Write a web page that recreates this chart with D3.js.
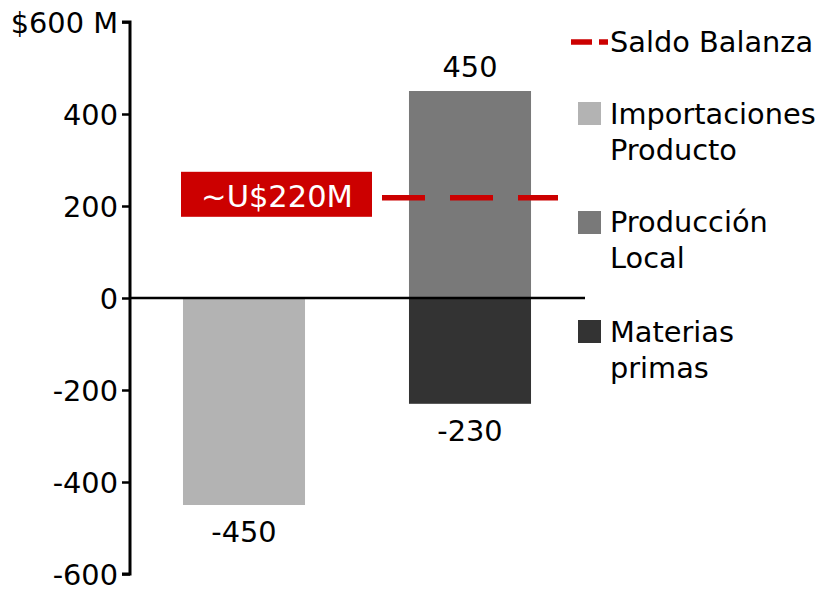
<!DOCTYPE html>
<html><head><meta charset="utf-8">
<script src="https://cdn.jsdelivr.net/npm/d3@7"></script>
<style>body{margin:0;background:#fff}svg{display:block;font-family:"DejaVu Sans",Verdana,sans-serif}</style>
</head><body><svg id="c" width="824" height="589"></svg>
<script>
const categories = ["Importado", "Nacional"];
const seriesNames = ["Importaciones Producto", "Producción Local", "Materias primas"];
const seriesColors = ["#b3b3b3", "#797979", "#333333"];
const importaciones = [-450, 0];
const produccionLocal = [0, 450];
const materiasPrimas = [0, -230];
const saldoBalanza = 220;
const saldoLabel = "~U$220M";
const yTicks = [-600, -400, -200, 0, 200, 400, 600];
const yTickLabels = ["-600", "-400", "-200", "0", "200", "400", "$600 M"];
const legendLines = [["Saldo Balanza"], ["Importaciones", "Producto"], ["Producción", "Local"], ["Materias", "primas"]];

const svg = d3.select("#c");
const FS = 28.8;
const y = d3.scaleLinear().domain([-600, 600]).range([574, 22]);
const x = d3.scaleBand().domain(categories).range([131, 583]).paddingInner(0.46).paddingOuter(0.23);

const series = [importaciones, produccionLocal, materiasPrimas];
series.forEach((vals, si) => {
  categories.forEach((c, i) => {
    const v = vals[i];
    if (!v) return;
    svg.append("rect").attr("x", x(c)).attr("width", x.bandwidth())
      .attr("y", y(Math.max(0, v))).attr("height", Math.abs(y(v) - y(0)))
      .attr("fill", seriesColors[si]);
    const lbl = svg.append("text").attr("x", x(c) + x.bandwidth() / 2)
      .attr("text-anchor", "middle").attr("font-size", FS).attr("fill", "#000").text(v);
    if (v > 0) lbl.attr("y", y(v) - 14); else lbl.attr("y", y(v) + 37);
  });
});

// zero line
svg.append("line").attr("x1", 130).attr("x2", 585).attr("y1", y(0)).attr("y2", y(0))
  .attr("stroke", "#000").attr("stroke-width", 2.5);

// axis
const ax = svg.append("g").attr("transform", "translate(130,0)")
  .call(d3.axisLeft(y).tickValues(yTicks).tickFormat((d, i) => yTickLabels[i]).tickSize(8).tickPadding(4));
ax.select(".domain").attr("stroke-width", 3).attr("d", `M-8,${y(600)}H0V${y(-600)}H-8`);
ax.selectAll(".tick line").attr("stroke-width", 2.5);
ax.selectAll(".tick text").attr("font-size", FS).attr("font-family", "DejaVu Sans").attr("fill", "#000").attr("dy", "0.35em");

// saldo line
svg.append("line").attr("x1", 382).attr("x2", 558).attr("y1", y(saldoBalanza) + 1).attr("y2", y(saldoBalanza) + 1)
  .attr("stroke", "#cc0000").attr("stroke-width", 5.5).attr("stroke-dasharray", "43,25");
svg.append("rect").attr("x", 181).attr("y", y(saldoBalanza) - 25).attr("width", 191).attr("height", 45).attr("fill", "#cc0000");
svg.append("text").attr("x", 277).attr("y", y(saldoBalanza) + 10).attr("text-anchor", "middle")
  .attr("font-size", 30.5).attr("fill", "#fff").text(saldoLabel);

// legend
const lg = svg.append("g");
lg.append("line").attr("x1", 571).attr("x2", 608).attr("y1", 42).attr("y2", 42)
  .attr("stroke", "#cc0000").attr("stroke-width", 5.5).attr("stroke-dasharray", "21,7");
const legendBase = [52, 124, 232, 342];
const sqTop = [null, 102, 211, 320];
legendLines.forEach((lines, i) => {
  if (i > 0) lg.append("rect").attr("x", 578).attr("y", sqTop[i]).attr("width", 23).attr("height", 23).attr("fill", seriesColors[i - 1]);
  lines.forEach((t, j) => {
    lg.append("text").attr("x", 610).attr("y", legendBase[i] + j * 36).attr("font-size", FS).attr("fill", "#000").text(t);
  });
});
</script></body></html>
